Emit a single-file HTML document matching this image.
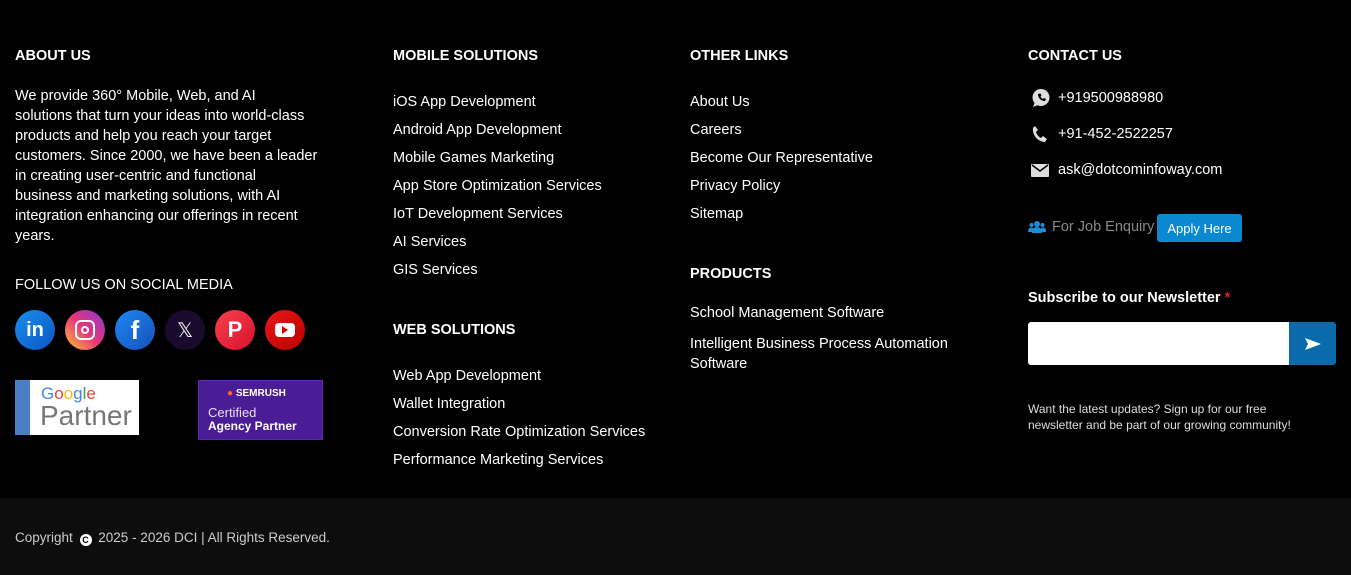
<!DOCTYPE html>
<html><head><meta charset="utf-8">
<style>
*{margin:0;padding:0;box-sizing:border-box}
body{width:1351px;height:575px;background:#000;font-family:"Liberation Sans",sans-serif;color:#fff;position:relative;overflow:hidden;font-size:14.5px}
.a{position:absolute;white-space:nowrap}
h3{position:absolute;font-size:14.5px;font-weight:bold;white-space:nowrap}
.l{position:absolute;line-height:28px;white-space:nowrap}
.p{line-height:20px}
.soc{position:absolute;top:310px;width:40px;height:40px;border-radius:50%;color:#fff;font-weight:bold;display:flex;align-items:center;justify-content:center;font-size:20px}
.bot{position:absolute;left:0;top:498px;width:1351px;height:77px;background:#0d0d0d}
</style></head><body>
<h3 style="left:15px;top:48px">ABOUT US</h3>
<div class="a p" style="left:15px;top:86px">We provide 360° Mobile, Web, and AI<br>solutions that turn your ideas into world-class<br>products and help you reach your target<br>customers. Since 2000, we have been a leader<br>in creating user-centric and functional<br>business and marketing solutions, with AI<br>integration enhancing our offerings in recent<br>years.</div>
<h3 style="left:15px;top:277px;font-weight:normal">FOLLOW US ON SOCIAL MEDIA</h3>
<div class="soc" style="left:15px;background:linear-gradient(135deg,#1a8ef0,#0a56c0)">in</div>
<div class="soc" style="left:65px;background:linear-gradient(45deg,#fdc830,#e6357a,#8a3ad8)"><div style="width:20px;height:20px;border:2.5px solid #fff;border-radius:6px;display:flex;align-items:center;justify-content:center"><div style="width:8px;height:8px;border:2px solid #fff;border-radius:50%"></div></div></div>
<div class="soc" style="left:115px;background:linear-gradient(135deg,#1e88f5,#1650b8);font-size:26px">f</div>
<div class="soc" style="left:165px;background:#1a0a2e;font-weight:normal;font-size:20px">𝕏</div>
<div class="soc" style="left:215px;background:linear-gradient(135deg,#f8424b,#d8102e);font-size:22px">P</div>
<div class="soc" style="left:265px;background:linear-gradient(135deg,#e81818,#b80000)"><div style="width:20px;height:14px;background:#fff;border-radius:4px;display:flex;align-items:center;justify-content:center"><div style="width:0;height:0;border-left:6px solid #d00;border-top:4px solid transparent;border-bottom:4px solid transparent"></div></div></div>
<div class="a" style="left:15px;top:380px;width:124px;height:55px;background:#fff">
 <div style="position:absolute;left:0;top:0;width:15px;height:55px;background:#4a7fc6"></div>
 <div style="position:absolute;left:26px;top:4px;font-size:17px"><span style="color:#4285f4">G</span><span style="color:#ea4335">o</span><span style="color:#fbbc05">o</span><span style="color:#4285f4">g</span><span style="color:#34a853">l</span><span style="color:#ea4335">e</span></div>
 <div style="position:absolute;left:25px;top:20px;font-size:28px;color:#777">Partner</div>
</div>
<div class="a" style="left:198px;top:380px;width:125px;height:60px;background:#4a1d96;border:1px solid #5b2aa8">
 <div style="position:absolute;left:28px;top:7px;font-size:10px;font-weight:bold;color:#fff"><span style="color:#ff642d">●</span> SEMRUSH</div>
 <div style="position:absolute;left:9px;top:24px;font-size:13px;color:#e8e0f5">Certified</div>
 <div style="position:absolute;left:9px;top:38px;font-size:12px;font-weight:bold">Agency Partner</div>
</div>

<h3 style="left:393px;top:48px">MOBILE SOLUTIONS</h3>
<div class="l" style="left:393px;top:88px">iOS App Development<br>Android App Development<br>Mobile Games Marketing<br>App Store Optimization Services<br>IoT Development Services<br>AI Services<br>GIS Services</div>
<h3 style="left:393px;top:322px">WEB SOLUTIONS</h3>
<div class="l" style="left:393px;top:362px">Web App Development<br>Wallet Integration<br>Conversion Rate Optimization Services<br>Performance Marketing Services</div>

<h3 style="left:690px;top:48px">OTHER LINKS</h3>
<div class="l" style="left:690px;top:88px">About Us<br>Careers<br>Become Our Representative<br>Privacy Policy<br>Sitemap</div>
<h3 style="left:690px;top:266px">PRODUCTS</h3>
<div class="a" style="left:690px;top:305px">School Management Software</div>
<div class="a p" style="left:690px;top:334px">Intelligent Business Process Automation<br>Software</div>

<h3 style="left:1028px;top:48px">CONTACT US</h3>
<svg class="a" style="left:1031px;top:88px" width="20" height="20" viewBox="0 0 20 20"><circle cx="10" cy="9.5" r="8.5" fill="#ddd"/><path d="M2 19l2-5 3 3z" fill="#ddd"/><path d="M7 6c0 4 3 7 7 7l1-2-2-1-1 1c-1-.5-2-1.5-2.5-2.5l1-1-1-2z" fill="#000"/></svg>
<div class="a" style="left:1058px;top:90px">+919500988980</div>
<svg class="a" style="left:1032px;top:125px" width="16" height="18" viewBox="0 0 16 18"><path d="M3 1l3 4-2 2c1 3 3 5 5 6l2-2 4 3-2 3C6 17 0 10 1 3z" fill="#ddd"/></svg>
<div class="a" style="left:1058px;top:126px">+91-452-2522257</div>
<svg class="a" style="left:1031px;top:164px" width="18" height="13" viewBox="0 0 18 13"><rect width="18" height="13" rx="1" fill="#ddd"/><path d="M1 1l8 6 8-6" stroke="#000" stroke-width="1.5" fill="none"/></svg>
<div class="a" style="left:1058px;top:162px">ask@dotcominfoway.com</div>
<svg class="a" style="left:1028px;top:220px" width="18" height="14" viewBox="0 0 18 14"><circle cx="9" cy="4" r="3" fill="#1a8fd8"/><circle cx="3.5" cy="5" r="2" fill="#1a8fd8"/><circle cx="14.5" cy="5" r="2" fill="#1a8fd8"/><path d="M4 13c0-4 2-6 5-6s5 2 5 6z" fill="#1a8fd8"/><path d="M0 12c0-3 1.5-4.5 3.5-4.5S6 9 6 12zM12 12c0-3 1.5-4.5 3.5-4.5S18 9 18 12z" fill="#1a8fd8"/></svg>
<div class="a" style="left:1052px;top:219px;color:#888">For Job Enquiry</div>
<div class="a" style="left:1157px;top:214px;width:85px;height:28px;background:#0a88d0;border-radius:3px;font-size:13px;line-height:29px;text-align:center">Apply Here</div>
<h3 style="left:1028px;top:290px">Subscribe to our Newsletter <span style="color:#e02020">*</span></h3>
<div class="a" style="left:1028px;top:322px;width:262px;height:43px;background:#fff;border-radius:3px 0 0 3px"></div>
<div class="a" style="left:1289px;top:322px;width:47px;height:43px;background:#0b6aaa;border-radius:0 3px 3px 0;display:flex;align-items:center;justify-content:center"><svg width="16" height="12" viewBox="0 0 16 12"><path d="M0 0l16 6-16 6 3-6z" fill="#fff"/></svg></div>
<div class="a" style="left:1028px;top:401px;font-size:12px;line-height:16px;color:#ddd">Want the latest updates? Sign up for our free<br>newsletter and be part of our growing community!</div>

<div class="bot"></div>
<div class="a" style="left:15px;top:530px;font-size:13.5px;color:#ccc">Copyright <span style="display:inline-block;width:12px;height:12px;border-radius:50%;background:#fff;color:#000;font-size:9px;line-height:12px;text-align:center;font-weight:bold;vertical-align:-1px;margin:0 3px">C</span> 2025 - 2026 DCI | All Rights Reserved.</div>
</body></html>
